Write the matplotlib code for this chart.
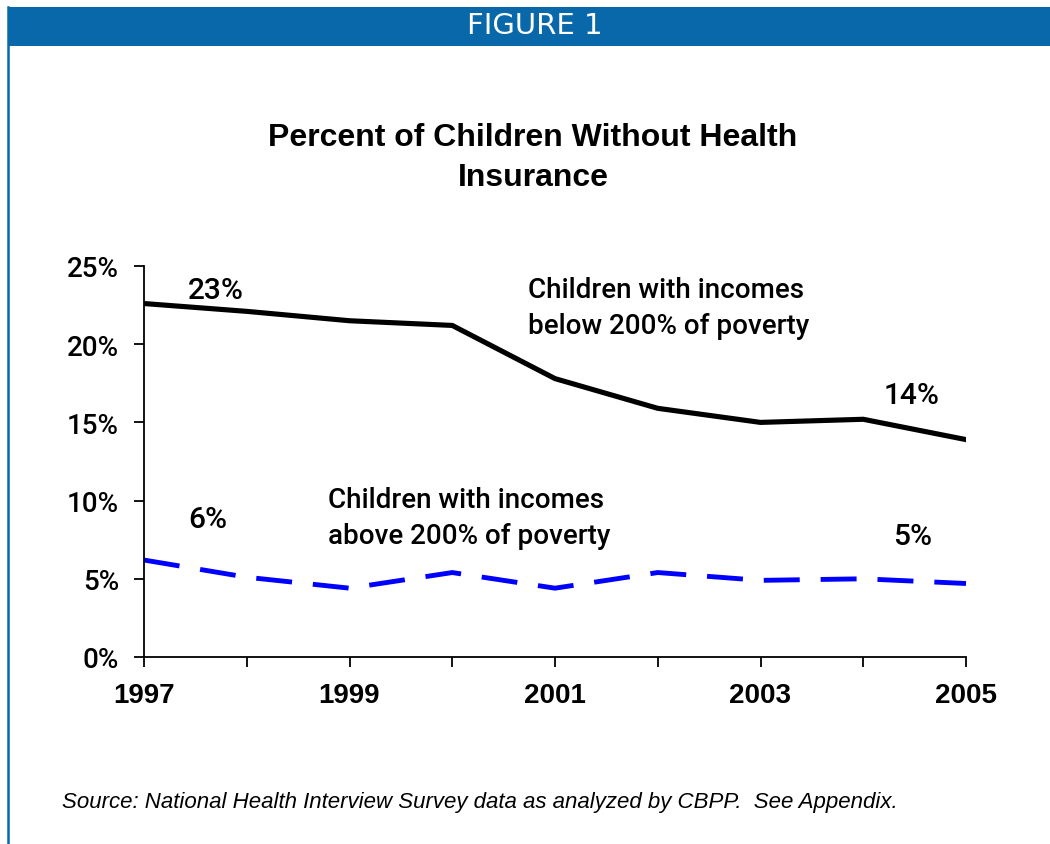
import matplotlib
matplotlib.use("Agg")
import matplotlib.pyplot as plt
from matplotlib import font_manager as fm
from matplotlib.patches import Rectangle
from matplotlib.lines import Line2D

years = [1997, 1998, 1999, 2000, 2001, 2002, 2003, 2004, 2005]
below_200 = [22.6, 22.1, 21.5, 21.2, 17.8, 15.9, 15.0, 15.2, 13.9]
above_200 = [6.2, 5.1, 4.4, 5.4, 4.4, 5.4, 4.9, 5.0, 4.7]
y_ticks = [0, 5, 10, 15, 20, 25]
x_tick_labels = ["1997", "", "1999", "", "2001", "", "2003", "", "2005"]

W, H = 1050, 845
fig = plt.figure(figsize=(W / 100, H / 100), dpi=100)

def fx(px):
    return px / W

def fy(py):
    return 1 - py / H

names = {f.name for f in fm.fontManager.ttflist}
narrow = "Liberation Sans Narrow" if "Liberation Sans Narrow" in names else "Liberation Sans"
label_font = "Roboto"

# header bar
fig.patches.append(Rectangle((fx(8), fy(47)), 1 - fx(8), (47 - 8) / H,
                             transform=fig.transFigure, facecolor="#0868AA",
                             edgecolor="none"))
fig.lines.append(Line2D([fx(8), fx(8)], [0, fy(8)], transform=fig.transFigure,
                        color="#0868AA", lw=1.8))
fig.text(fx(535), fy(26), "FIGURE 1", color="white", ha="center", va="center",
         fontsize=21, family="DejaVu Sans")

# title
fig.text(fx(533), fy(158), "Percent of Children Without Health\nInsurance",
         ha="center", va="center", fontsize=23, fontweight="bold", family=narrow,
         linespacing=1.45)

ax = fig.add_axes([fx(144), fy(658), fx(966) - fx(144), (658 - 267) / H])
ax.plot(years, below_200, color="black", lw=3.7, solid_joinstyle="miter")
ax.plot(years, above_200, color="#0000FF", lw=3.5, dashes=(7.4, 4.3))
ax.set_xlim(years[0], years[-1])
ax.set_ylim(0, 25)
ax.set_xticks(years)
ax.set_xticklabels(x_tick_labels)
ax.set_yticks(y_ticks)
ax.set_yticklabels([f"{v}%" for v in y_ticks])
for s in ["top", "right"]:
    ax.spines[s].set_visible(False)
for s in ["left", "bottom"]:
    ax.spines[s].set_linewidth(1.3)
ax.tick_params(axis="y", length=7, width=1.3, pad=11, labelsize=20)
ax.tick_params(axis="x", length=7, width=1.3, pad=11, labelsize=20)
for t in ax.get_yticklabels():
    t.set_family(label_font)
    t.set_fontweight("medium")
for t in ax.get_xticklabels():
    t.set_family("Liberation Sans")
    t.set_fontweight("bold")

pct = dict(fontsize=21.5, family=label_font, fontweight="medium")
lab = dict(fontsize=20, family=label_font, fontweight="medium")
ax.text(1997.70, 23.47, "23%", ha="center", va="center", **pct)
ax.text(2004.47, 16.75, "14%", ha="center", va="center", **pct)
ax.text(1997.62, 8.82, "6%", ha="center", va="center", **pct)
ax.text(2004.48, 7.74, "5%", ha="center", va="center", **pct)
ax.text(2000.74, 22.35, "Children with incomes\nbelow 200% of poverty",
        ha="left", va="center", linespacing=1.42, **lab)
ax.text(1998.79, 8.9, "Children with incomes\nabove 200% of poverty",
        ha="left", va="center", linespacing=1.42, **lab)

fig.text(fx(62), fy(803), "Source: National Health Interview Survey data as analyzed by CBPP.  See Appendix.",
         ha="left", va="center", fontsize=16, style="italic", family=narrow)

fig.savefig("out.png", dpi=100)
